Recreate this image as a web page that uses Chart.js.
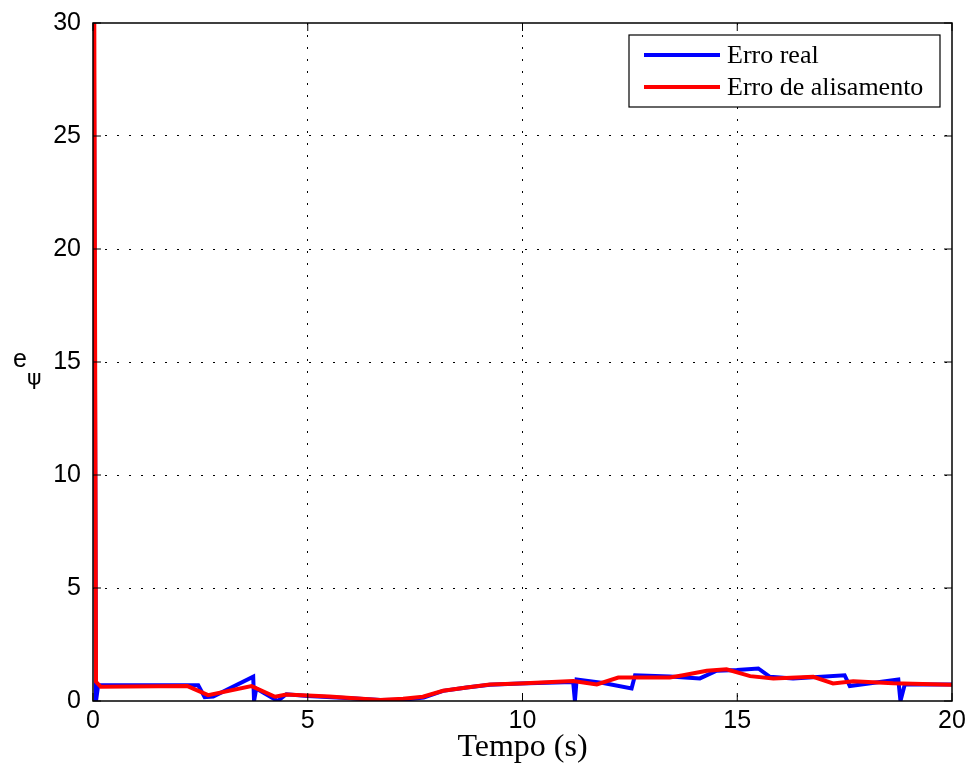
<!DOCTYPE html>
<html>
<head>
<meta charset="utf-8">
<script src="https://cdn.jsdelivr.net/npm/chart.js@4/dist/chart.umd.min.js"></script>
<style>
  html, body { margin: 0; padding: 0; background: #fff; }
  #wrap { width: 972px; height: 775px; position: relative; }
</style>
</head>
<body>
<div id="wrap"><canvas id="errChart"></canvas></div>
<script>
// erro real
const realT = [0.02, 0.07, 0.12, 2.45, 2.6, 2.8, 3.73, 3.75, 3.8, 4.3, 4.5, 5.0, 6.0, 6.7, 7.2, 7.7, 8.15, 8.7, 9.24, 9.94,
               11.18, 11.22, 11.26, 11.88, 12.54, 12.62, 13.43, 14.13, 14.52, 14.99, 15.49, 15.76, 16.3, 17.5, 17.62,
               18.75, 18.8, 18.9, 20];
const realE = [30, 0, 0.7, 0.7, 0.17, 0.2, 1.08, 0, 0.55, 0, 0.3, 0.22, 0.12, 0.04, 0.05, 0.15, 0.45, 0.6, 0.72, 0.77,
               0.84, 0, 0.95, 0.8, 0.56, 1.14, 1.08, 1.0, 1.34, 1.37, 1.44, 1.07, 1.0, 1.14, 0.66,
               0.95, 0, 0.73, 0.73];

// erro de alisamento
const smoothT = [0.03, 0.07, 0.18, 2.2, 2.68, 3.69, 4.24, 4.5, 5.5, 6.68, 7.22, 7.68, 8.15, 8.7, 9.24, 9.94, 11.18, 11.73,
                 12.23, 13.43, 13.74, 14.29, 14.75, 15.3, 15.84, 16.77, 17.23, 17.7, 18.63, 20];
const smoothE = [30, 0.85, 0.63, 0.66, 0.26, 0.66, 0.19, 0.29, 0.2, 0.04, 0.1, 0.19, 0.45, 0.6, 0.73, 0.77, 0.88, 0.73,
                 1.04, 1.04, 1.14, 1.34, 1.4, 1.1, 1.0, 1.07, 0.78, 0.87, 0.78, 0.72];

const xTicks = [0, 5, 10, 15, 20];
const yTicks = [0, 5, 10, 15, 20, 25, 30];
const seriesNames = ['Erro real', 'Erro de alisamento'];

function toPoints(xs, ys) {
    return xs.map((x, i) => ({ x: x, y: ys[i] }));
}

// frame, inward ticks, y label and boxed legend in MATLAB style
const matlabFrame = {
    id: 'matlabFrame',
    afterDraw(chart) {
        const ctx = chart.ctx;
        const a = chart.chartArea;
        const xs = chart.scales.x, ys = chart.scales.y;
        ctx.save();
        ctx.strokeStyle = '#000';
        ctx.lineWidth = 1.5;
        ctx.strokeRect(a.left, a.top, a.right - a.left, a.bottom - a.top);
        ctx.lineWidth = 1;
        const tl = 8;
        xTicks.forEach(v => {
            const px = xs.getPixelForValue(v);
            ctx.beginPath();
            ctx.moveTo(px, a.bottom); ctx.lineTo(px, a.bottom - tl);
            ctx.moveTo(px, a.top); ctx.lineTo(px, a.top + tl);
            ctx.stroke();
        });
        yTicks.forEach(v => {
            const py = ys.getPixelForValue(v);
            ctx.beginPath();
            ctx.moveTo(a.left, py); ctx.lineTo(a.left + tl, py);
            ctx.moveTo(a.right, py); ctx.lineTo(a.right - tl, py);
            ctx.stroke();
        });

        // y axis label e_psi
        ctx.fillStyle = '#000';
        ctx.textAlign = 'left';
        ctx.textBaseline = 'alphabetic';
        ctx.font = '25px "Liberation Sans", Arial, sans-serif';
        ctx.fillText('e', 13, 367);
        ctx.font = '22px "DejaVu Sans", sans-serif';
        ctx.fillText('\u03C8', 27, 385);

        // legend box
        const bx = 629, by = 35, bw = 311, bh = 72;
        ctx.fillStyle = '#fff';
        ctx.fillRect(bx, by, bw, bh);
        ctx.strokeStyle = '#000';
        ctx.lineWidth = 1.2;
        ctx.strokeRect(bx, by, bw, bh);
        ctx.font = '26px "Liberation Serif", "Times New Roman", serif';
        ctx.textBaseline = 'middle';
        chart.data.datasets.forEach((ds, i) => {
            const ly = by + 20 + i * 32;
            ctx.strokeStyle = ds.borderColor;
            ctx.lineWidth = 4;
            ctx.beginPath();
            ctx.moveTo(644, ly); ctx.lineTo(720, ly);
            ctx.stroke();
            ctx.fillStyle = '#000';
            ctx.fillText(ds.label, 727, ly + 1);
        });
        ctx.restore();
    }
};

const ctx = document.getElementById('errChart').getContext('2d');
const errChart = new Chart(ctx, {
    type: 'line',
    data: {
        datasets: [{
            label: seriesNames[0],
            data: toPoints(realT, realE),
            borderColor: '#0000ff',
            borderWidth: 4,
            pointRadius: 0,
            tension: 0,
            order: 1
        }, {
            label: seriesNames[1],
            data: toPoints(smoothT, smoothE),
            borderColor: '#ff0000',
            borderWidth: 4,
            pointRadius: 0,
            tension: 0,
            order: 0
        }]
    },
    options: {
        responsive: true,
        maintainAspectRatio: false,
        animation: false,
        layout: { padding: { top: 23, right: 20, left: 0, bottom: 8 } },
        plugins: {
            legend: { display: false },
            tooltip: { enabled: false }
        },
        scales: {
            x: {
                type: 'linear',
                min: 0,
                max: 20,
                afterFit: function(scale) {
                    scale.height = 66;
                    scale.paddingLeft = 0;
                    scale.paddingRight = 0;
                },
                afterBuildTicks: function(scale) { scale.ticks = xTicks.map(v => ({ value: v })); },
                grid: {
                    color: (c) => (c.tick && (c.tick.value === 0 || c.tick.value === 20)) ? 'rgba(0,0,0,0)' : '#000',
                    lineWidth: 1,
                    drawTicks: false
                },
                border: { display: false, dash: [2, 10] },
                ticks: {
                    color: '#000',
                    padding: 5,
                    maxRotation: 0,
                    font: { family: "'Liberation Sans', Arial, sans-serif", size: 25 }
                },
                title: {
                    display: true,
                    text: 'Tempo (s)',
                    color: '#000',
                    padding: { top: 0, bottom: 0 },
                    font: { family: "'Liberation Serif', 'Times New Roman', serif", size: 32 }
                }
            },
            y: {
                min: 0,
                max: 30,
                afterFit: function(scale) {
                    scale.width = 93;
                    scale.paddingTop = 0;
                    scale.paddingBottom = 0;
                },
                afterBuildTicks: function(scale) { scale.ticks = yTicks.map(v => ({ value: v })); },
                grid: {
                    color: (c) => (c.tick && (c.tick.value === 0 || c.tick.value === 30)) ? 'rgba(0,0,0,0)' : '#000',
                    lineWidth: 1,
                    drawTicks: false
                },
                border: { display: false, dash: [2, 10] },
                ticks: {
                    color: '#000',
                    padding: 12,
                    font: { family: "'Liberation Sans', Arial, sans-serif", size: 25 }
                }
            }
        }
    },
    plugins: [matlabFrame]
});
</script>
</body>
</html>
